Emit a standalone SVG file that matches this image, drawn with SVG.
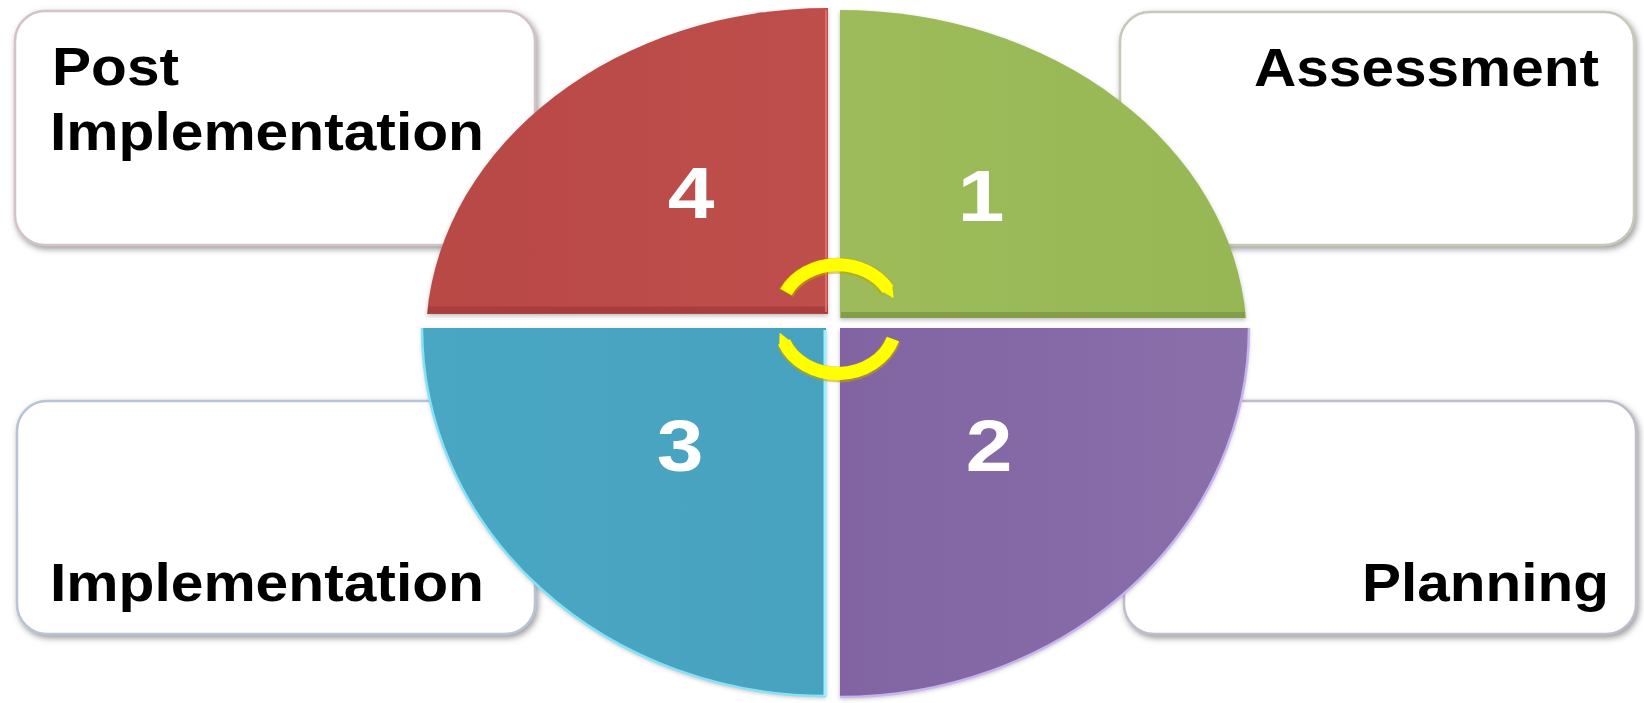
<svg xmlns="http://www.w3.org/2000/svg" width="1644" height="703" viewBox="0 0 1644 703">
<defs>
<style>
.box{fill:#ffffff;stroke-width:2.5}
.lbl{font-family:"Liberation Sans",Arial,sans-serif;font-weight:bold;font-size:54px;fill:#000000}
.num{font-family:"Liberation Sans",Arial,sans-serif;font-weight:bold;font-size:73px;fill:#ffffff;text-anchor:middle}
.arc{fill:none;stroke:#FFFF00;stroke-width:13;stroke-linecap:butt}
.arcsh{fill:none;stroke:#C4A400;stroke-width:16;stroke-linecap:butt;opacity:0.55}
</style>
<filter id="sh" x="-10%" y="-10%" width="120%" height="125%">
<feDropShadow dx="2" dy="3" stdDeviation="3" flood-color="#707070" flood-opacity="0.7"/>
</filter>
<filter id="psh" x="-10%" y="-10%" width="120%" height="120%">
<feDropShadow dx="0" dy="2" stdDeviation="2" flood-color="#404040" flood-opacity="0.35"/>
</filter>
<linearGradient id="gRed" x1="0" y1="0" x2="1" y2="0">
<stop offset="0" stop-color="#B84845"/><stop offset="1" stop-color="#BE4F4C"/>
</linearGradient>
<linearGradient id="gGreen" x1="0" y1="0" x2="1" y2="0">
<stop offset="0" stop-color="#9DBB5A"/><stop offset="1" stop-color="#97B755"/>
</linearGradient>
<linearGradient id="gBlue" x1="0" y1="0" x2="1" y2="0">
<stop offset="0" stop-color="#4AA7C4"/><stop offset="1" stop-color="#47A2BF"/>
</linearGradient>
<linearGradient id="gPurple" x1="0" y1="0" x2="1" y2="0">
<stop offset="0" stop-color="#8164A2"/><stop offset="1" stop-color="#8A6FAB"/>
</linearGradient>
<marker id="ah" viewBox="0 0 10 10" refX="2" refY="5" markerWidth="1.0" markerHeight="1.4" orient="auto" markerUnits="strokeWidth">
<path d="M0,0 L10,5 L0,10 Z" fill="#FFFF00"/>
</marker>
</defs>

<g id="box-post-implementation">
<rect class="box" x="15" y="11" width="520" height="234" rx="30" stroke="#D3C3C5" filter="url(#sh)"/>
<text class="lbl" x="52" y="85" textLength="127" lengthAdjust="spacingAndGlyphs">Post</text>
<text class="lbl" x="50" y="150" textLength="434" lengthAdjust="spacingAndGlyphs">Implementation</text>
</g>
<g id="box-assessment">
<rect class="box" x="1120" y="12" width="514" height="233" rx="30" stroke="#C6C9B8" filter="url(#sh)"/>
<text class="lbl" x="1254" y="86" textLength="345" lengthAdjust="spacingAndGlyphs">Assessment</text>
</g>
<g id="box-implementation">
<rect class="box" x="17" y="401" width="518" height="233" rx="30" stroke="#B9C3D8" filter="url(#sh)"/>
<text class="lbl" x="50" y="601" textLength="434" lengthAdjust="spacingAndGlyphs">Implementation</text>
</g>
<g id="box-planning">
<rect class="box" x="1124" y="401" width="512" height="233" rx="30" stroke="#BFBCCC" filter="url(#sh)"/>
<text class="lbl" x="1362" y="601" textLength="247" lengthAdjust="spacingAndGlyphs">Planning</text>
</g>

<g id="quadrant-4">
<path d="M828,314 L427,314 A402,332 0 0 1 828,8 Z" fill="url(#gRed)" filter="url(#psh)"/>
<path d="M428,310 L828,310" stroke="#A33C3A" stroke-width="7" opacity="0.8"/>
<path d="M826,10 L826,312" stroke="#E06A66" stroke-width="2"/>
<text class="num" transform="translate(691,218) scale(1.15,1)">4</text>
</g>
<g id="quadrant-1">
<path d="M840,318 L840,10 A407,332 0 0 1 1246,318 Z" fill="url(#gGreen)" filter="url(#psh)"/>
<path d="M841,315 L1245,315" stroke="#7E9A46" stroke-width="6" opacity="0.85"/>
<text class="num" transform="translate(981,221) scale(1.15,1)">1</text>
</g>
<g id="quadrant-3">
<path d="M826,328 L826,696 A404,368 0 0 1 422,328 Z" fill="url(#gBlue)" filter="url(#psh)"/>
<path d="M826,696 A404,368 0 0 1 422,328" fill="none" stroke="#86E2F6" stroke-width="2.5"/>
<path d="M825,330 L825,696" stroke="#9AF0FF" stroke-width="3"/>
<text class="num" transform="translate(680,471) scale(1.15,1)">3</text>
</g>
<g id="quadrant-2">
<path d="M840,328 L1249,328 A409,369 0 0 1 840,697 Z" fill="url(#gPurple)" filter="url(#psh)"/>
<path d="M1249,328 A409,369 0 0 1 840,697" fill="none" stroke="#C7B5F2" stroke-width="2.5"/>
<text class="num" transform="translate(989,471) scale(1.15,1)">2</text>
</g>

<g id="connectors">
<path class="arcsh" d="M786,293 A57,47 0 0 1 888,290.5"/>
<path class="arc" d="M786,292 A57,47 0 0 1 888,289.5" marker-end="url(#ah)"/>
<path class="arcsh" d="M893,340 A58,50 0 0 1 784,343"/>
<path class="arc" d="M893,339 A58,50 0 0 1 784,342" marker-end="url(#ah)"/>
</g>
</svg>
